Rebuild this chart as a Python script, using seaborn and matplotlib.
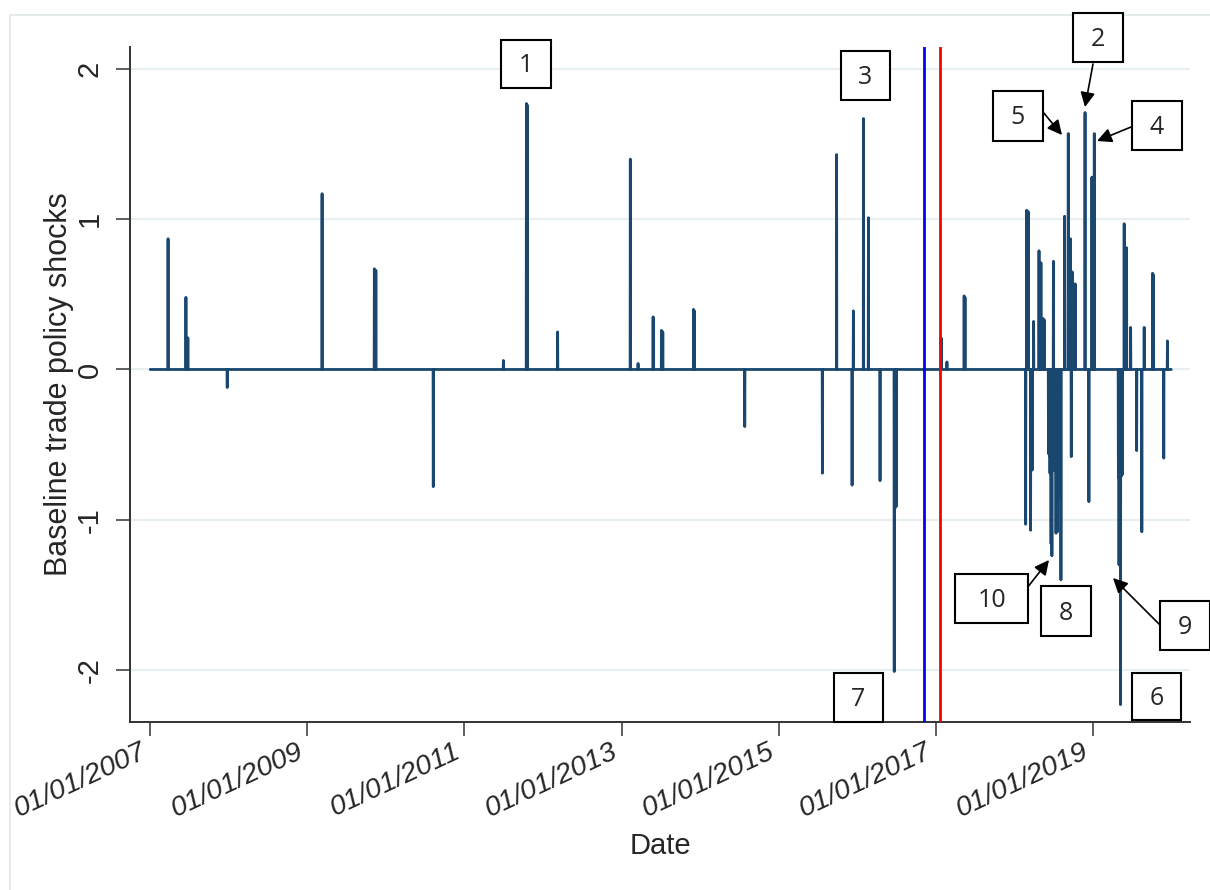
import pandas as pd
import seaborn as sns
import matplotlib.pyplot as plt
import matplotlib.dates as mdates
from matplotlib.lines import Line2D
from matplotlib.patches import Rectangle

# Daily trade policy shocks (zero on every other day)
shock_dates = [
    '2007-03-25', '2007-06-16', '2007-06-25', '2007-12-25', '2009-03-10',
    '2009-11-08', '2009-11-15', '2010-08-09', '2011-07-01', '2011-10-16',
    '2011-10-20', '2012-03-09', '2013-02-10', '2013-03-18', '2013-05-27',
    '2013-07-05', '2013-07-11', '2013-12-01', '2013-12-05', '2014-07-27',
    '2015-07-23', '2015-09-27', '2015-12-08', '2015-12-14', '2016-01-30',
    '2016-02-22', '2016-04-16', '2016-06-21', '2016-06-26', '2016-07-01',
    '2017-01-25', '2017-02-21', '2017-05-12', '2017-05-16', '2018-02-22',
    '2018-02-27', '2018-03-06', '2018-03-17', '2018-03-24', '2018-03-31',
    '2018-04-25', '2018-05-04', '2018-05-13', '2018-05-20', '2018-06-08',
    '2018-06-12', '2018-06-15', '2018-06-20', '2018-06-24', '2018-06-27',
    '2018-07-01', '2018-07-04', '2018-07-08', '2018-07-13', '2018-07-16',
    '2018-07-20', '2018-07-24', '2018-07-28', '2018-08-01', '2018-08-05',
    '2018-08-22', '2018-09-08', '2018-09-18', '2018-09-22', '2018-09-26',
    '2018-10-10', '2018-11-25', '2018-12-13', '2018-12-27', '2019-01-07',
    '2019-04-29', '2019-05-02', '2019-05-06', '2019-05-09', '2019-05-13',
    '2019-05-17', '2019-05-26', '2019-06-06', '2019-06-25', '2019-07-23',
    '2019-08-16', '2019-08-27', '2019-10-05', '2019-10-09', '2019-11-26',
    '2019-12-13',
]
shock_values = [
    0.87, 0.48, 0.21, -0.12, 1.17,
    0.67, 0.66, -0.78, 0.06, 1.77,
    1.76, 0.25, 1.40, 0.04, 0.35,
    0.26, 0.25, 0.40, 0.39, -0.38,
    -0.69, 1.43, -0.77, 0.39, 1.67,
    1.01, -0.74, -2.01, -0.92, -0.91,
    0.21, 0.05, 0.49, 0.48, -1.03,
    1.06, 1.05, -1.07, -0.67, 0.32,
    0.79, 0.71, 0.34, 0.33, -0.56,
    -0.57, -0.69, -1.16, -1.24, -0.57,
    0.72, -0.67, -0.57, -1.09, -0.58,
    -1.08, -0.57, -0.85, -0.57, -1.40,
    1.02, 1.57, 0.87, -0.58, 0.65,
    0.57, 1.71, -0.88, 1.28, 1.57,
    -0.72, -1.30, -0.70, -2.23, -0.71,
    -0.70, 0.97, 0.81, 0.28, -0.54,
    -1.08, 0.28, 0.64, 0.63, -0.59,
    0.19,
]
start_date, end_date = '2007-01-01', '2019-12-31'
tick_years = [2007, 2009, 2011, 2013, 2015, 2017, 2019]
y_ticks = [-2, -1, 0, 1, 2]
event_dates = ['2016-11-08', '2017-01-20']   # election, inauguration
event_colors = ['#0000ff', '#ff0000']
box_labels = ['1', '2', '3', '4', '5', '6', '7', '8', '9', '10']

days = pd.date_range(start_date, end_date, freq='D')
series = pd.Series(0.0, index=days)
series[pd.to_datetime(shock_dates)] = shock_values
df = pd.DataFrame({'Date': days, 'shock': series.values})

sns.set_style('white')
plt.rcParams['font.family'] = ['Liberation Sans', 'DejaVu Sans']
plt.rcParams['axes.unicode_minus'] = False

W, H = 1210, 890


def fig_xy(x, y):
    # image pixel (from top-left) -> figure fraction
    return x / W, 1 - y / H


fig = plt.figure(figsize=(W / 100, H / 100), dpi=100)
fig.patch.set_facecolor('white')
ax = fig.add_axes([130 / W, 1 - 722 / H, (1190 - 130) / W, (722 - 47) / H])

sns.lineplot(data=df, x='Date', y='shock', ax=ax, color='#1a476f', lw=2.0)
for d, c in zip(event_dates, event_colors):
    ax.axvline(pd.Timestamp(d), color=c, lw=2.0, zorder=3)

ax.set_xlim(pd.Timestamp('2006-09-29'), pd.Timestamp('2020-03-27'))
ax.set_ylim(-2.346, 2.146)
ax.set_yticks(y_ticks)
ax.set_yticklabels([str(v) for v in y_ticks])
ax.set_xticks(pd.to_datetime([f'{y}-01-01' for y in tick_years]))
ax.xaxis.set_major_formatter(mdates.DateFormatter('%m/%d/%Y'))
ax.grid(axis='y', color='#e8eff2', lw=1.6)
ax.grid(axis='x', visible=False)
ax.set_axisbelow(True)
for s in ['top', 'right']:
    ax.spines[s].set_visible(False)
for s in ['left', 'bottom']:
    ax.spines[s].set_color('#333333')
    ax.spines[s].set_linewidth(1.4)
ax.tick_params(axis='both', direction='out', length=10, width=1.1,
               color='#333333', labelsize=21, left=True, bottom=True)
ax.tick_params(axis='y', pad=9)
ax.tick_params(axis='x', pad=2, labelsize=20.5)
for lbl in ax.get_yticklabels():
    lbl.set_rotation(90)
    lbl.set_va('center')
for lbl in ax.get_xticklabels():
    lbl.set_rotation(25)
    lbl.set_ha('right')
    lbl.set_style('italic')
ax.set_xlabel('Date', fontsize=21, labelpad=7)
ax.set_ylabel('Baseline trade policy shocks', fontsize=22, labelpad=1)

# faint outer border of the graph region
fig.add_artist(Line2D([10 / W, 1], [1 - 15 / H] * 2, transform=fig.transFigure,
                      color='#dfe7ea', lw=1.2))
fig.add_artist(Line2D([10 / W] * 2, [0, 1 - 15 / H], transform=fig.transFigure,
                      color='#dfe7ea', lw=1.2))

# numbered boxes (image pixel extents: x0, x1, y0, y1)
boxes = [
    (501, 551, 40, 88), (1073, 1123, 13, 62), (841, 890, 51, 100),
    (1132, 1182, 101, 150), (993, 1043, 91, 141), (1132, 1181, 673, 720),
    (834, 883, 673, 722), (1041, 1091, 586, 636), (1160, 1210, 601, 650),
    (955, 1028, 574, 623),
]
for lab, (x0, x1, y0, y1) in zip(box_labels, boxes):
    fx0, fy1 = fig_xy(x0, y1)
    fx1, fy0 = fig_xy(x1, y0)
    fig.add_artist(Rectangle((fx0, fy1), fx1 - fx0, fy0 - fy1,
                             transform=fig.transFigure, facecolor='white',
                             edgecolor='black', lw=1.5, zorder=5))
    cx, cy = fig_xy((x0 + x1) / 2, (y0 + y1) / 2 + 2)
    fig.text(cx, cy, lab, ha='center', va='center', fontsize=18,
             family=['Open Sans', 'DejaVu Sans'], zorder=6)

# arrows: label -> (start, tip) in image pixels
arrows = {
    '2': ((1093, 64), (1085, 107)),
    '5': ((1043, 112), (1062, 135)),
    '4': ((1131, 127), (1097, 141)),
    '10': ((1027, 588), (1049, 560)),
    '9': ((1159, 624), (1113, 578)),
}
for lab, (st, tip) in arrows.items():
    ax.annotate('', xy=fig_xy(*tip), xycoords='figure fraction',
                xytext=fig_xy(*st), textcoords='figure fraction',
                arrowprops=dict(arrowstyle='-|>', color='black', lw=1.2,
                                mutation_scale=22, shrinkA=0, shrinkB=0),
                annotation_clip=False, zorder=6)

fig.savefig('out.png', dpi=100, facecolor='white')
plt.close(fig)
